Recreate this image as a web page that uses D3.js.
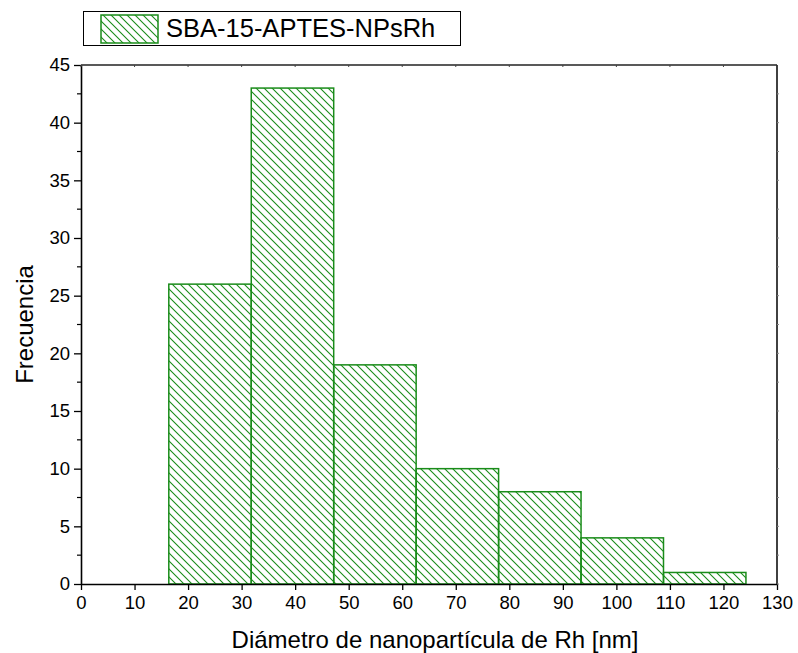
<!DOCTYPE html>
<html>
<head>
<meta charset="utf-8">
<script src="https://cdn.jsdelivr.net/npm/d3@7"></script>
<style>
  body { margin: 0; background: #fff; }
  svg { font-family: "Liberation Sans", Arial, sans-serif; }
</style>
</head>
<body>
<div id="chart"></div>
<script>
// histogram data
const binStart = 16.4;
const binWidth = 15.4;
const counts = [26, 43, 19, 10, 8, 4, 1];
const xTicks = d3.range(0, 131, 10);
const yTicks = d3.range(0, 46, 5);
const seriesName = "SBA-15-APTES-NPsRh";
const xTitle = "Diámetro de nanopartícula de Rh [nm]";
const yTitle = "Frecuencia";

const width = 798, height = 653;
const margin = {top: 65, right: 21, bottom: 69, left: 81};
const green = "#1a8c1a";

const bins = counts.map((c, i) => ({x0: binStart + i * binWidth, x1: binStart + (i + 1) * binWidth, n: c}));

const svg = d3.select("#chart")
    .append("svg")
    .attr("width", width)
    .attr("height", height);

const x = d3.scaleLinear().domain([0, 130]).range([margin.left, width - margin.right]);
const y = d3.scaleLinear().domain([0, 45]).range([height - margin.bottom, margin.top]);

// hatch pattern
const hs = 8;
const defs = svg.append("defs");
const pat = defs.append("pattern")
    .attr("id", "hatch")
    .attr("patternUnits", "userSpaceOnUse")
    .attr("width", hs)
    .attr("height", hs);
pat.append("path")
    .attr("d", `M-1,-1L${hs + 1},${hs + 1}M-1,${hs - 1}L1,${hs + 1}M${hs - 1},-1L${hs + 1},1`)
    .attr("stroke", green)
    .attr("stroke-width", 1.1)
    .attr("fill", "none");

// bars
svg.append("g")
    .selectAll("rect")
    .data(bins)
    .join("rect")
    .attr("x", d => x(d.x0))
    .attr("y", d => y(d.n))
    .attr("width", d => x(d.x1) - x(d.x0))
    .attr("height", d => y(0) - y(d.n))
    .attr("fill", "url(#hatch)")
    .attr("stroke", green)
    .attr("stroke-width", 1.5);

// axes
const xAxis = svg.append("g")
    .attr("transform", `translate(0,${y(0)})`)
    .call(d3.axisBottom(x).tickValues(xTicks).tickSize(6).tickPadding(6).tickSizeOuter(0));
const yAxis = svg.append("g")
    .attr("transform", `translate(${x(0)},0)`)
    .call(d3.axisLeft(y).tickValues(yTicks).tickSize(7).tickPadding(4).tickSizeOuter(0));
// minor ticks on y
svg.append("g")
    .selectAll("line")
    .data(d3.range(2.5, 45, 5))
    .join("line")
    .attr("x1", x(0) - 4).attr("x2", x(0))
    .attr("y1", d => y(d)).attr("y2", d => y(d))
    .attr("stroke", "#000").attr("stroke-width", 1.2);

[xAxis, yAxis].forEach(g => {
    g.select(".domain").attr("stroke-width", 1.6);
    g.selectAll(".tick line").attr("stroke-width", 1.3);
    g.selectAll(".tick text").attr("font-size", 18.5).attr("fill", "#000")
        .attr("font-family", "'Liberation Sans', Arial, sans-serif");
});

// top and right frame with small inner ticks
svg.append("line")
    .attr("x1", x(0)).attr("x2", x(130))
    .attr("y1", y(45)).attr("y2", y(45))
    .attr("stroke", "#222").attr("stroke-width", 1.6);
svg.append("line")
    .attr("x1", x(130)).attr("x2", x(130))
    .attr("y1", y(45)).attr("y2", y(0))
    .attr("stroke", "#111").attr("stroke-width", 1.6);
svg.append("g")
    .selectAll("line")
    .data(xTicks)
    .join("line")
    .attr("x1", d => x(d)).attr("x2", d => x(d))
    .attr("y1", y(45)).attr("y2", y(45) + 2)
    .attr("stroke", "#444");
svg.append("g")
    .selectAll("line")
    .data(d3.range(0, 45, 2.5))
    .join("line")
    .attr("x1", x(130)).attr("x2", x(130) + 2)
    .attr("y1", d => y(d)).attr("y2", d => y(d))
    .attr("stroke", "#888");

// axis titles
svg.append("text")
    .attr("x", (x(0) + x(130)) / 2 + 6)
    .attr("y", 648)
    .attr("text-anchor", "middle")
    .attr("font-size", 24)
    .text(xTitle);
svg.append("text")
    .attr("transform", `translate(33,${(y(0) + y(45)) / 2}) rotate(-90)`)
    .attr("text-anchor", "middle")
    .attr("font-size", 24)
    .text(yTitle);

// legend
const lg = svg.append("g");
lg.append("rect")
    .attr("x", 83.5).attr("y", 11.5)
    .attr("width", 377).attr("height", 34)
    .attr("fill", "#fff").attr("stroke", "#000").attr("stroke-width", 1);
lg.append("rect")
    .attr("x", 101).attr("y", 15)
    .attr("width", 57).attr("height", 28)
    .attr("fill", "url(#hatch)")
    .attr("stroke", green).attr("stroke-width", 1.5);
lg.append("text")
    .attr("x", 166).attr("y", 37)
    .attr("font-size", 25.5)
    .text(seriesName);
</script>
</body>
</html>
